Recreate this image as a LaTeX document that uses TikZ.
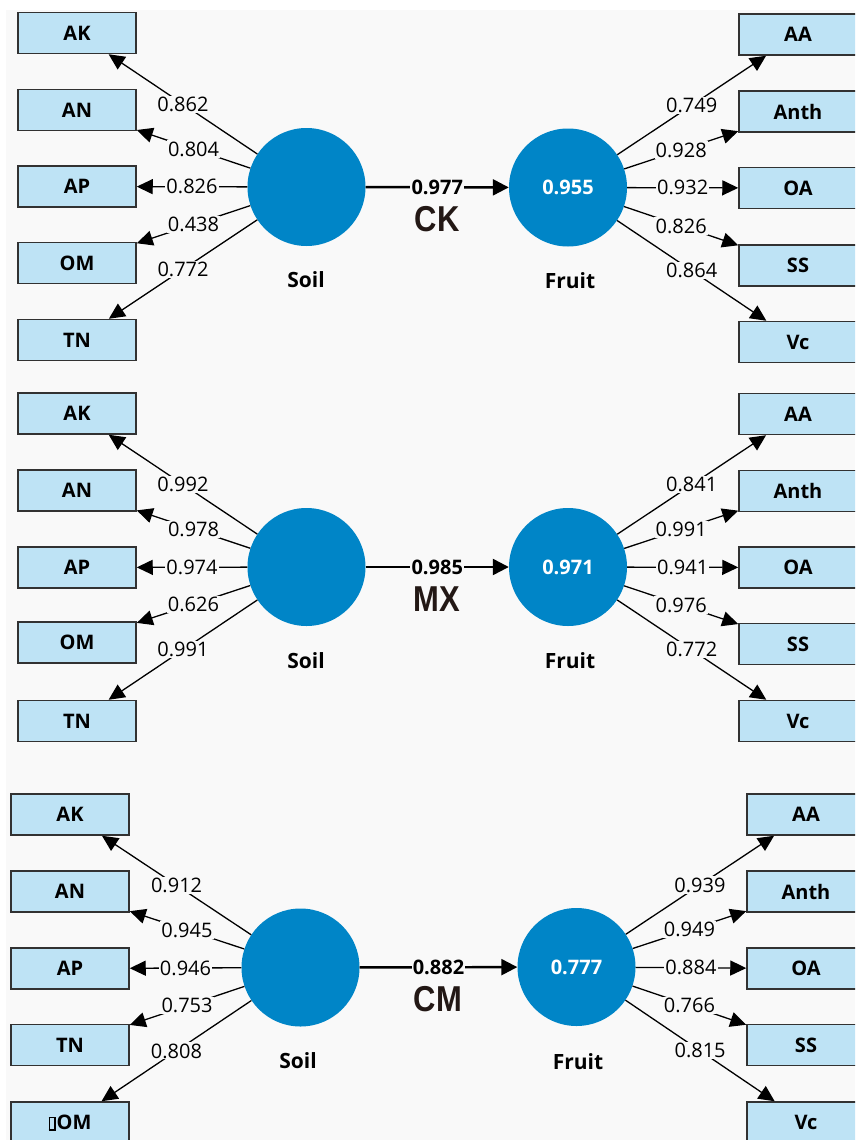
\documentclass[tikz,border=0pt]{standalone}
\usepackage{fontspec}
\setmainfont{Open Sans}
\newfontfamily\condfont[FakeStretch=0.86]{Liberation Sans}
\usetikzlibrary{arrows.meta}
\definecolor{bgc}{RGB}{249,249,249}
\definecolor{boxfill}{RGB}{190,227,245}
\definecolor{boxline}{RGB}{50,50,50}
\definecolor{lv}{RGB}{0,133,199}
\definecolor{ttl}{RGB}{35,24,21}
\newcommand\tofubox{{\setlength\fboxsep{0pt}\setlength\fboxrule{1.5pt}\fbox{\rule{0pt}{11pt}\hspace{4pt}}}\hspace{1pt}}
\tikzset{
  ind/.style={draw=boxline,line width=1.5pt,fill=boxfill,minimum width=118pt,minimum height=41pt,inner sep=0pt,font=\fontsize{20}{20}\selectfont\bfseries},
  lat/.style={circle,fill=lv,minimum size=118pt,inner sep=0pt,text=white,font=\fontsize{20}{20}\selectfont\bfseries},
  latname/.style={font=\fontsize{21}{21}\selectfont\bfseries},
  lbl/.style={fill=bgc,inner sep=1.2pt,font=\fontsize{20}{20}\selectfont},
  clbl/.style={fill=bgc,inner sep=1.2pt,font=\fontsize{20}{20}\selectfont\bfseries},
  grp/.style={text=ttl,font=\fontsize{36}{36}\selectfont\condfont\bfseries},
  arr/.style={line width=1.3pt,-{Triangle[length=16pt,width=15pt]}},
  carr/.style={line width=2.4pt,-{Triangle[length=16pt,width=16pt]}}
}
\begin{document}
\begin{tikzpicture}[x=1pt,y=-1pt]
\useasboundingbox (0,0) rectangle (855,1140);
\clip (0,0) rectangle (855,1140);
\fill[white] (0,0) rectangle (855,1140);
\fill[bgc] (6,10) rectangle (855,1140);

% ---------------- Panel 1 : CK ----------------
\node[lat] (s1) at (306.5,187) {};
\node[lat] (f1) at (568,187.5) {0.955};
\node[latname] (s1n) at (306,280) {Soil};
\node[latname] (f1n) at (570,281) {Fruit};
\node[ind] (a1ak) at (77,33) {AK};
\node[ind] (a1an) at (77,110) {AN};
\node[ind] (a1ap) at (77,186.5) {AP};
\node[ind] (a1om) at (77,263) {OM};
\node[ind] (a1tn) at (77,340) {TN};
\node[ind] (b1aa) at (798,34.5) {AA};
\node[ind] (b1an) at (798,111.5) {Anth};
\node[ind] (b1oa) at (798,188) {OA};
\node[ind] (b1ss) at (798,265.5) {SS};
\node[ind] (b1vc) at (798,342) {Vc};
\draw[arr] (s1) -- node[lbl]{0.862} (a1ak);
\draw[arr] (s1) -- node[lbl]{0.804} (a1an);
\draw[arr] (s1) -- node[lbl]{0.826} (a1ap);
\draw[arr] (s1) -- node[lbl]{0.438} (a1om);
\draw[arr] (s1) -- node[lbl]{0.772} (a1tn);
\draw[arr] (f1) -- node[lbl]{0.749} (b1aa);
\draw[arr] (f1) -- node[lbl]{0.928} (b1an);
\draw[arr] (f1) -- node[lbl]{0.932} (b1oa);
\draw[arr] (f1) -- node[lbl]{0.826} (b1ss);
\draw[arr] (f1) -- node[lbl]{0.864} (b1vc);
\draw[carr] (s1) -- node[clbl]{0.977} (f1);
\node[grp] (g1) at (437,219) {CK};

% ---------------- Panel 2 : MX ----------------
\node[lat] (s2) at (306.5,567) {};
\node[lat] (f2) at (568,567) {0.971};
\node[latname] (s2n) at (306,661) {Soil};
\node[latname] (f2n) at (570,661) {Fruit};
\node[ind] (a2ak) at (77,413.5) {AK};
\node[ind] (a2an) at (77,490.5) {AN};
\node[ind] (a2ap) at (77,567.5) {AP};
\node[ind] (a2om) at (77,642.5) {OM};
\node[ind] (a2tn) at (77,721) {TN};
\node[ind] (b2aa) at (798,414) {AA};
\node[ind] (b2an) at (798,491) {Anth};
\node[ind] (b2oa) at (798,567.5) {OA};
\node[ind] (b2ss) at (798,644) {SS};
\node[ind] (b2vc) at (798,721) {Vc};
\draw[arr] (s2) -- node[lbl]{0.992} (a2ak);
\draw[arr] (s2) -- node[lbl]{0.978} (a2an);
\draw[arr] (s2) -- node[lbl]{0.974} (a2ap);
\draw[arr] (s2) -- node[lbl]{0.626} (a2om);
\draw[arr] (s2) -- node[lbl]{0.991} (a2tn);
\draw[arr] (f2) -- node[lbl]{0.841} (b2aa);
\draw[arr] (f2) -- node[lbl]{0.991} (b2an);
\draw[arr] (f2) -- node[lbl]{0.941} (b2oa);
\draw[arr] (f2) -- node[lbl]{0.976} (b2ss);
\draw[arr] (f2) -- node[lbl]{0.772} (b2vc);
\draw[carr] (s2) -- node[clbl]{0.985} (f2);
\node[grp] (g2) at (437,599) {MX};

% ---------------- Panel 3 : CM ----------------
\node[lat] (s3) at (300.5,967.5) {};
\node[lat] (f3) at (576.5,967) {0.777};
\node[latname] (s3n) at (298,1061) {Soil};
\node[latname] (f3n) at (578,1062) {Fruit};
\node[ind] (a3ak) at (70,814.5) {AK};
\node[ind] (a3an) at (70,891.5) {AN};
\node[ind] (a3ap) at (70,968.5) {AP};
\node[ind] (a3tn) at (70,1045) {TN};
\node[ind] (a3om) at (70,1122.5) {\tofubox OM};
\node[ind] (b3aa) at (806,814.5) {AA};
\node[ind] (b3an) at (806,891.5) {Anth};
\node[ind] (b3oa) at (806,968.5) {OA};
\node[ind] (b3ss) at (806,1045) {SS};
\node[ind] (b3vc) at (806,1122.5) {Vc};
\draw[arr] (s3) -- node[lbl]{0.912} (a3ak);
\draw[arr] (s3) -- node[lbl]{0.945} (a3an);
\draw[arr] (s3) -- node[lbl]{0.946} (a3ap);
\draw[arr] (s3) -- node[lbl]{0.753} (a3tn);
\draw[arr] (s3) -- node[lbl]{0.808} (a3om);
\draw[arr] (f3) -- node[lbl]{0.939} (b3aa);
\draw[arr] (f3) -- node[lbl]{0.949} (b3an);
\draw[arr] (f3) -- node[lbl]{0.884} (b3oa);
\draw[arr] (f3) -- node[lbl]{0.766} (b3ss);
\draw[arr] (f3) -- node[lbl]{0.815} (b3vc);
\draw[carr] (s3) -- node[clbl]{0.882} (f3);
\node[grp] (g3) at (438,999) {CM};
\end{tikzpicture}
\end{document}
